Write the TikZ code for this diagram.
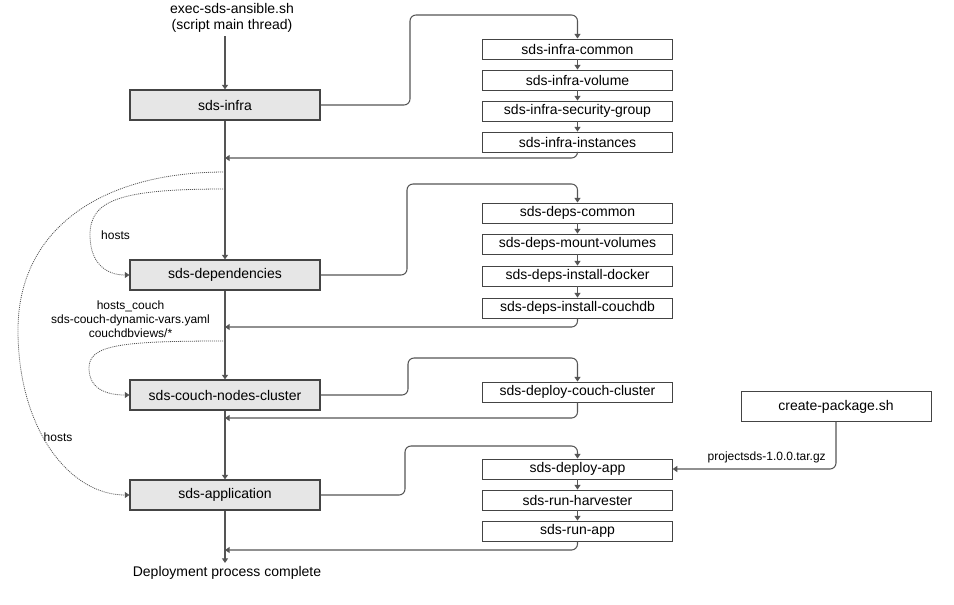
\documentclass[tikz,border=0pt]{standalone}
\usepackage{fontspec}
\setmainfont{Liberation Sans}
\usetikzlibrary{arrows.meta}
\definecolor{boxfill}{HTML}{E6E6E6}
\definecolor{linecol}{HTML}{555555}
\definecolor{bordercol}{HTML}{444444}
\begin{document}
\begin{tikzpicture}[x=0.75pt,y=-0.75pt,
  bigfont/.style={font=\fontsize{10.5}{12}\selectfont},
  smallfont/.style={font=\fontsize{9}{10.5}\selectfont},
  mainbox/.style={draw=bordercol,fill=boxfill,line width=0.8pt,minimum width=142.5pt,minimum height=22.5pt,inner sep=0pt,bigfont},
  taskbox/.style={draw=bordercol,fill=white,line width=0.7pt,minimum width=142pt,minimum height=15pt,inner sep=0pt,bigfont},
  pkgbox/.style={draw=bordercol,fill=white,line width=0.7pt,minimum width=142.5pt,minimum height=22pt,inner sep=0pt,bigfont},
  tip/.style={-{Triangle[length=3.5pt,width=4.5pt]}},
  flow/.style={draw=linecol,line width=0.9pt,tip},
  conn/.style={draw=linecol,line width=0.8pt,rounded corners=4.5pt,tip},
  dotline/.style={draw=linecol,line width=0.6pt,dash pattern=on 0.75pt off 0.75pt,tip}
]
\useasboundingbox (0,0) rectangle (954,604);

% title and end text
\node[bigfont,align=center,inner sep=0pt] (title) at (232,18) {exec-sds-ansible.sh\\(script main thread)};
\node[bigfont,inner sep=0pt] (done) at (227,573) {Deployment process complete};
\coordinate (start) at (225,36);
\coordinate (finish) at (225,563);

% main boxes
\node[mainbox] (infra) at (225,105) {sds-infra};
\node[mainbox] (deps) at (225,275) {sds-dependencies};
\node[mainbox] (couch) at (225,395) {sds-couch-nodes-cluster};
\node[mainbox] (app) at (225,495) {sds-application};

% junctions on main line
\coordinate (j1) at (225,158);
\coordinate (j2) at (225,327);
\coordinate (j3) at (225,418);
\coordinate (j4) at (225,550);

% infra tasks
\node[taskbox] (icommon) at (577.5,49) {sds-infra-common};
\node[taskbox] (ivolume) at (577.5,80) {sds-infra-volume};
\node[taskbox] (isec) at (577.5,111) {sds-infra-security-group};
\node[taskbox] (iinst) at (577.5,142) {sds-infra-instances};

% deps tasks
\node[taskbox] (dcommon) at (577.5,213) {sds-deps-common};
\node[taskbox] (dmount) at (577.5,244) {sds-deps-mount-volumes};
\node[taskbox] (ddocker) at (577.5,276) {sds-deps-install-docker};
\node[taskbox] (dcouch) at (577.5,308) {sds-deps-install-couchdb};

% couch tasks
\node[taskbox] (cdeploy) at (577.5,392) {sds-deploy-couch-cluster};

% app tasks
\node[taskbox] (adeploy) at (577.5,469) {sds-deploy-app};
\node[taskbox] (aharv) at (577.5,500) {sds-run-harvester};
\node[taskbox] (arun) at (577.5,531) {sds-run-app};

% package
\node[pkgbox] (pkg) at (836,406.5) {create-package.sh};

% main flow
\draw[flow] (start) -- (infra.north);
\draw[flow] (infra.south) -- (deps.north);
\draw[flow] (deps.south) -- (couch.north);
\draw[flow] (couch.south) -- (app.north);
\draw[flow] (app.south) -- (finish);

% task chains
\draw[flow,line width=0.7pt] (icommon.south) -- (ivolume.north);
\draw[flow,line width=0.7pt] (ivolume.south) -- (isec.north);
\draw[flow,line width=0.7pt] (isec.south) -- (iinst.north);
\draw[flow,line width=0.7pt] (dcommon.south) -- (dmount.north);
\draw[flow,line width=0.7pt] (dmount.south) -- (ddocker.north);
\draw[flow,line width=0.7pt] (ddocker.south) -- (dcouch.north);
\draw[flow,line width=0.7pt] (adeploy.south) -- (aharv.north);
\draw[flow,line width=0.7pt] (aharv.south) -- (arun.north);

% calls out and returns
\draw[conn] (infra.east) -- (410,105) -- (410,15) -- (577.5,15) -- (icommon.north);
\draw[conn] (iinst.south) -- (577.5,158) -- (j1);
\draw[conn] (deps.east) -- (407,275) -- (407,184) -- (577.5,184) -- (dcommon.north);
\draw[conn] (dcouch.south) -- (577.5,327) -- (j2);
\draw[conn] (couch.east) -- (408,395) -- (408,358) -- (577.5,358) -- (cdeploy.north);
\draw[conn] (cdeploy.south) -- (577.5,418) -- (j3);
\draw[conn] (app.east) -- (405,495) -- (405,446) -- (577.5,446) -- (adeploy.north);
\draw[conn] (arun.south) -- (577.5,550) -- (j4);
\draw[conn] (pkg.south) -- (836,469) -- (adeploy.east);
\node[smallfont,anchor=east,inner sep=0pt] (pkglabel) at (826,457) {projectsds-1.0.0.tar.gz};

% dotted data flows
\coordinate (h1) at (225,172);
\coordinate (h2) at (225,189);
\coordinate (h3) at (225,341);
\draw[dotline] (h1) .. controls (100,172) and (18,230) .. (18,330) .. controls (18,430) and (70,495) .. (app.west);
\draw[dotline] (h2) .. controls (120,189) and (90,200) .. (90,235) .. controls (90,262) and (105,275) .. (deps.west);
\draw[dotline] (h3) .. controls (120,341) and (89,345) .. (89,368) .. controls (89,388) and (105,395) .. (couch.west);
\node[smallfont,inner sep=0pt] (lblhosts1) at (115.5,235) {hosts};
\node[smallfont,inner sep=0pt] (lblhosts2) at (58,437) {hosts};
\node[smallfont,align=center,inner sep=0pt] (lblcouch) at (130.5,319) {hosts\_couch\\sds-couch-dynamic-vars.yaml\\couchdbviews/*};
\end{tikzpicture}
\end{document}
